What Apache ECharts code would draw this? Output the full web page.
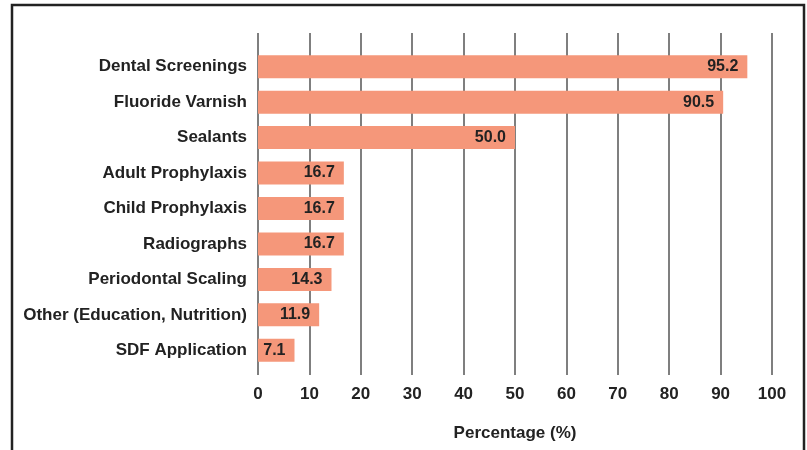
<!DOCTYPE html>
<html>
<head>
<meta charset="utf-8">
<script src="https://cdn.jsdelivr.net/npm/echarts@6/dist/echarts.min.js"></script>
<style>
	html, body { margin: 0; padding: 0; background: #fff; }
	#chart { width: 807px; height: 450px; }
</style>
</head>
<body>
<div id="chart"></div>
<script>
var categories = ['Dental Screenings', 'Fluoride Varnish', 'Sealants', 'Adult Prophylaxis', 'Child Prophylaxis',
	'Radiographs', 'Periodontal Scaling', 'Other (Education, Nutrition)', 'SDF Application'];
var percentages = [95.2, 90.5, 50.0, 16.7, 16.7, 16.7, 14.3, 11.9, 7.1];
var xMin = 0, xMax = 100, xStep = 10;

var font = '"Liberation Sans Narrow", "Liberation Sans", Arial, sans-serif';
var myChart = echarts.init(document.getElementById('chart'));

var option = {
	animation: false,
	graphic: [{
		type: 'rect',
		shape: { x: 12, y: 5, width: 792, height: 460 },
		style: { fill: 'none', stroke: '#222', lineWidth: 2.5 }
	}],
	grid: [
		// gridlines + tick labels
		{ left: 258, right: 35, top: 33, bottom: 75 },
		// bars + category labels
		{ left: 258, right: 35, top: 49, bottom: 82 }
	],
	xAxis: [{
		gridIndex: 0,
		type: 'value',
		min: xMin, max: xMax, interval: xStep,
		name: 'Percentage (%)',
		nameLocation: 'middle',
		nameGap: 50,
		nameTextStyle: { fontFamily: font, fontWeight: 'bold', fontSize: 17, color: '#222' },
		axisLine: { show: false },
		axisTick: { show: false },
		axisLabel: { fontFamily: font, fontWeight: 'bold', fontSize: 17, color: '#222', margin: 11 },
		splitLine: { show: true, lineStyle: { color: '#555', width: 1.5 } }
	}, {
		gridIndex: 1,
		type: 'value',
		min: xMin, max: xMax,
		show: false
	}],
	yAxis: [{
		gridIndex: 0,
		type: 'value',
		show: false
	}, {
		gridIndex: 1,
		type: 'category',
		inverse: true,
		data: categories,
		axisLine: { show: false },
		axisTick: { show: false },
		splitLine: { show: false },
		axisLabel: { fontFamily: font, fontWeight: 'bold', fontSize: 17, color: '#222', margin: 11 }
	}],
	series: [{
		name: 'Percentage',
		type: 'bar',
		xAxisIndex: 1,
		yAxisIndex: 1,
		data: percentages,
		barWidth: 23,
		itemStyle: { color: '#F5977A' },
		label: {
			show: true,
			position: 'insideRight',
			distance: 9,
			formatter: function (p) { return p.value.toFixed(1); },
			fontFamily: font,
			fontWeight: 'bold',
			fontSize: 16,
			color: '#222'
		}
	}]
};
myChart.setOption(option);
</script>
</body>
</html>
